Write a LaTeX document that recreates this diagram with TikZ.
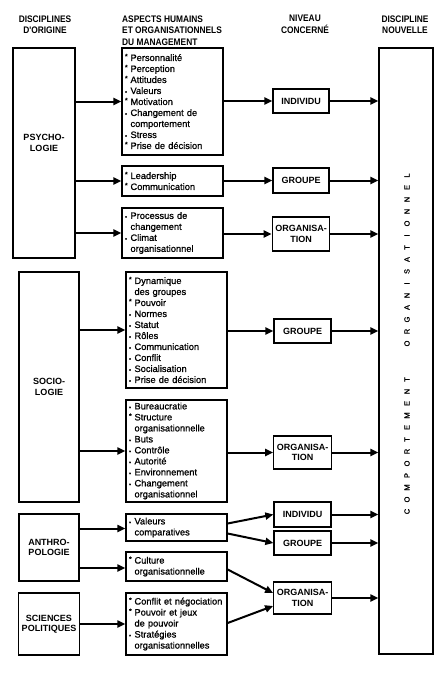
\documentclass[tikz,border=0pt]{standalone}
\usepackage{fontspec}
\setmainfont{Liberation Sans}
\newfontfamily\itfont{Liberation Sans}[FakeBold=0.9]
\newfontfamily\hdfont{Liberation Sans}[FakeStretch=0.88]
\newfontfamily\lbfont{Liberation Sans}
\usetikzlibrary{arrows.meta,calc}
\newcommand\bA{\makebox[5.5pt][l]{\raisebox{0.45ex}{\fontsize{7}{7}\selectfont *}}}
\newcommand\bD{\makebox[5.5pt][l]{\fontsize{6}{6}\selectfont\textbullet}}
\newcommand\cont{\hspace*{5.5pt}}
\newcommand\lsp[1]{\makebox[12pt]{#1}}
\begin{document}
\begin{tikzpicture}[x=1pt,y=-1pt,
  box/.style={draw, line width=1.3pt, inner xsep=3pt, inner ysep=0pt},
  lbl/.style={box, font=\lbfont\bfseries\fontsize{9}{10.5}\selectfont, align=center},
  asp/.style={box, minimum width=101pt, text width=95pt, align=left,
    font=\itfont\fontsize{9.3}{11}\selectfont},
  hdr/.style={font=\hdfont\bfseries\fontsize{9.5}{11.5}\selectfont, align=center, inner sep=0pt},
  arr/.style={line width=2pt, -{Triangle[length=8pt,width=7pt]}}]
\useasboundingbox (0,0) rectangle (446,677);

% headers
\node[hdr] (h1) at (45,24.5) {DISCIPLINES\\D'ORIGINE};
\node[hdr, align=left, anchor=west] (h2) at (122,30.5) {ASPECTS HUMAINS\\ET ORGANISATIONNELS\\DU MANAGEMENT};
\node[hdr] (h3) at (305,24.5) {NIVEAU\\CONCERNÉ};
\node[hdr] (h4) at (405,24.5) {DISCIPLINE\\NOUVELLE};

% left column
\node[lbl, minimum width=62pt, minimum height=210pt, text depth=20pt] (psy) at (44,153) {PSYCHO-\\LOGIE};
\node[lbl, minimum width=60pt, minimum height=230pt] (soc) at (49,387) {SOCIO-\\LOGIE};
\node[lbl, minimum width=60pt, minimum height=67pt] (ant) at (49,547.5) {ANTHRO-\\POLOGIE};
\node[lbl, minimum width=60pt, minimum height=62pt] (sci) at (49,624) {SCIENCES\\POLITIQUES};

% aspects column
\node[asp, minimum height=107pt] (a1) at (172.5,101.5) {\bA Personnalité\\\bA Perception\\\bA Attitudes\\\bD Valeurs\\\bA Motivation\\\bD Changement de\\\cont comportement\\\bD Stress\\\bA Prise de décision};
\node[asp, minimum height=30pt] (a2) at (172.5,181) {\bA Leadership\\\bA Communication};
\node[asp, minimum height=50pt] (a3) at (172.5,233) {\bD Processus de\\\cont changement\\\bD Climat\\\cont organisationnel};
\node[asp, minimum height=116pt] (a4) at (176.5,330) {\bA Dynamique\\\cont des groupes\\\bA Pouvoir\\\bD Normes\\\bD Statut\\\bD Rôles\\\bD Communication\\\bD Conflit\\\bD Socialisation\\\bD Prise de décision};
\node[asp, minimum height=102pt] (a5) at (176.5,451) {\bD Bureaucratie\\\bA Structure\\\cont organisationnelle\\\bD Buts\\\bD Contrôle\\\bD Autorité\\\bD Environnement\\\bD Changement\\\cont organisationnel};
\node[asp, minimum height=27pt] (a6) at (176.5,527.5) {\bD Valeurs\\\cont comparatives};
\node[asp, minimum height=29pt] (a7) at (176.5,566.5) {\bA Culture\\\cont organisationnelle};
\node[asp, minimum height=62pt] (a8) at (176.5,624) {\bA \mbox{Conflit et négociation}\\\bA Pouvoir et jeux\\\cont de pouvoir\\\bD Stratégies\\\cont organisationnelles};

% level column
\node[lbl, minimum width=56pt, minimum height=24pt] (n1) at (301,101) {INDIVIDU};
\node[lbl, minimum width=56pt, minimum height=25pt] (n2) at (301,180.5) {GROUPE};
\node[lbl, minimum width=56pt, minimum height=34pt] (n3) at (301,234) {ORGANISA-\\TION};
\node[lbl, minimum width=57pt, minimum height=24pt] (n4) at (302.5,331) {GROUPE};
\node[lbl, minimum width=57pt, minimum height=33pt] (n5) at (302.5,452.5) {ORGANISA-\\TION};
\node[lbl, minimum width=57pt, minimum height=25pt] (n6) at (302.5,514.5) {INDIVIDU};
\node[lbl, minimum width=57pt, minimum height=24pt] (n7) at (302.5,543) {GROUPE};
\node[lbl, minimum width=57pt, minimum height=32pt] (n8) at (302.5,598) {ORGANISA-\\TION};

% right column
\node[box, minimum width=54pt, minimum height=606pt] (R) at (406,351) {};
\node[rotate=90, inner sep=0pt, font=\itfont\fontsize{7.5}{7.5}\selectfont] (vt) at (407,343.5)
  {\lsp{C}\lsp{O}\lsp{M}\lsp{P}\lsp{O}\lsp{R}\lsp{T}\lsp{E}\lsp{M}\lsp{E}\lsp{N}\lsp{T}\lsp{}\lsp{}\lsp{O}\lsp{R}\lsp{G}\lsp{A}\lsp{N}\lsp{I}\lsp{S}\lsp{A}\lsp{T}\lsp{I}\lsp{O}\lsp{N}\lsp{N}\lsp{E}\lsp{L}};

% arrows from origins
\draw[arr] (psy.east |- a1.west) -- (a1.west);
\draw[arr] (psy.east |- a2.west) -- (a2.west);
\draw[arr] (psy.east |- a3.west) -- (a3.west);
\draw[arr] (soc.east |- a4.west) -- (a4.west);
\draw[arr] (soc.east |- a5.west) -- (a5.west);
\draw[arr] ($(ant.east |- a6.west)+(0,1)$) -- ($(a6.west)+(0,1)$);
\draw[arr] ($(ant.east |- a7.west)+(0,1.5)$) -- ($(a7.west)+(0,1.5)$);
\draw[arr] (sci.east |- a8.west) -- (a8.west);

% aspects to levels
\draw[arr] (a1.east |- n1.west) -- (n1.west);
\draw[arr] (a2.east |- n2.west) -- (n2.west);
\draw[arr] (a3.east |- n3.west) -- (n3.west);
\draw[arr] (a4.east |- n4.west) -- (n4.west);
\draw[arr] (a5.east |- n5.west) -- (n5.west);
\draw[arr] ($(a6.east)+(0,-4)$) -- (n6.west);
\draw[arr] ($(a6.east)+(0,6)$) -- (n7.west);
\draw[arr] ($(a7.east)+(0,3)$) -- ($(n8.west)+(0,-5)$);
\draw[arr] ($(a8.east)+(0,-1)$) -- ($(n8.west)+(0,8)$);

% levels to new discipline
\foreach \n in {n1,n2,n3,n4,n5,n6,n7,n8}
  \draw[arr] (\n.east) -- (\n.east -| R.west);
\end{tikzpicture}
\end{document}
